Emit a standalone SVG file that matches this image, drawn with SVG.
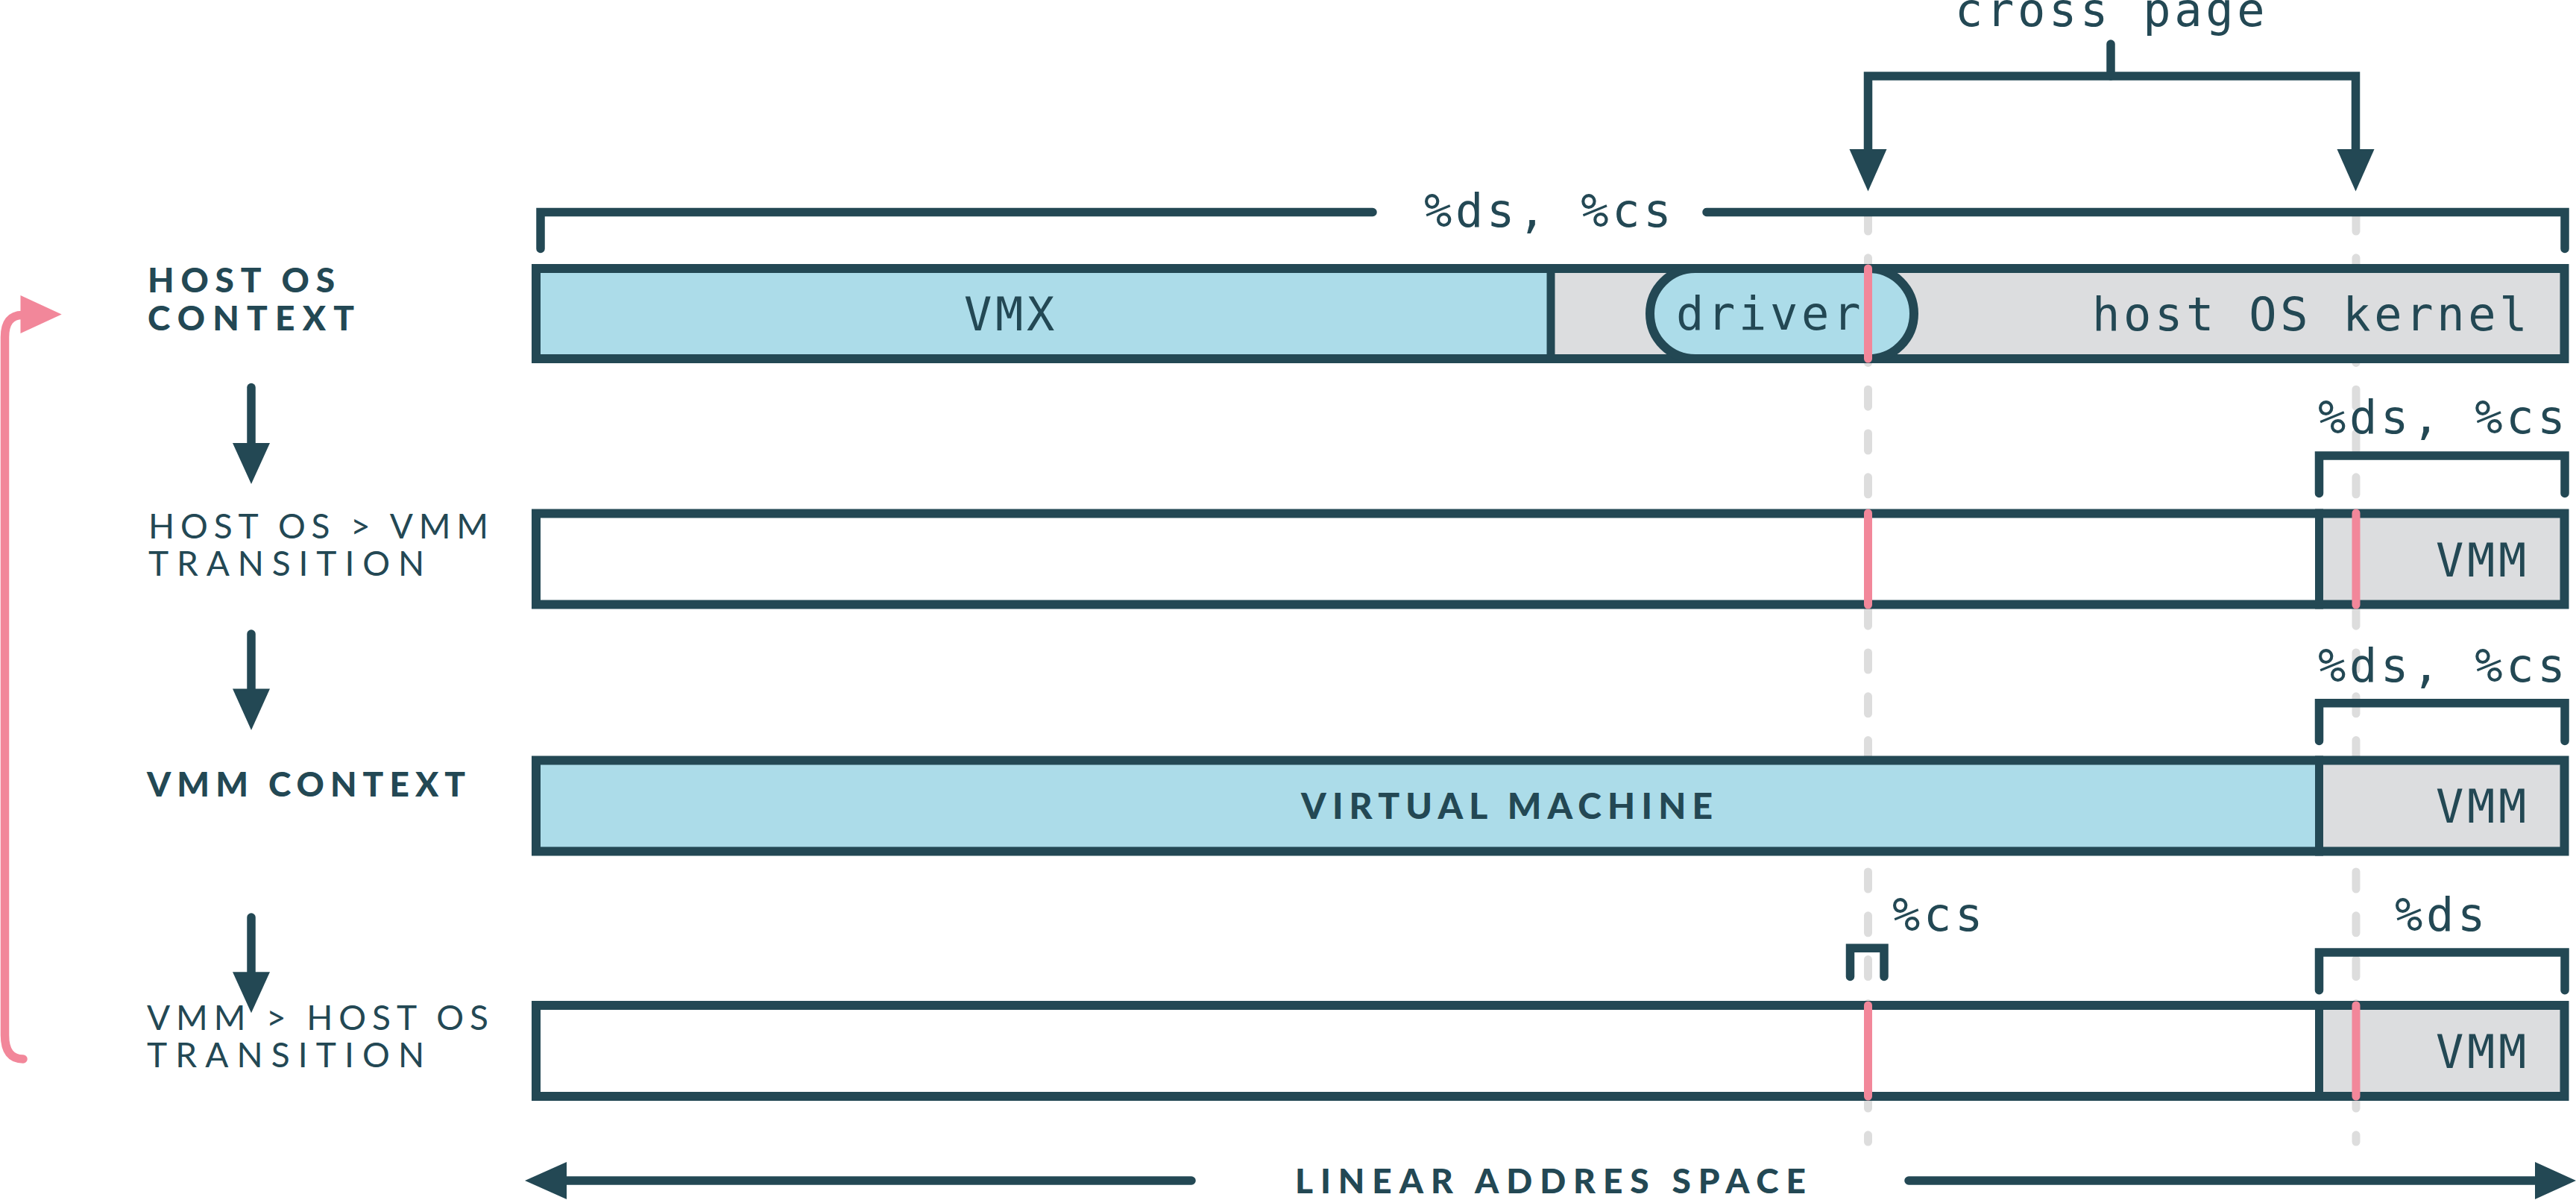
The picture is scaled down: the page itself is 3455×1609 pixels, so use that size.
<svg xmlns="http://www.w3.org/2000/svg" width="3455" height="1609" viewBox="0 0 3455 1609">
<defs>
<style>
.mono{font-family:"DejaVu Sans Mono","Liberation Mono",monospace;font-size:62px;letter-spacing:4.7px;fill:#234854}
.lbl{font-family:Lato,"Open Sans",sans-serif;font-size:46px;fill:#234854}
.b{font-weight:900}
.r{font-weight:400}
.ln{fill:none;stroke:#234854;stroke-width:11.5;stroke-linecap:round;stroke-linejoin:miter}
.box{fill:none;stroke:#234854;stroke-width:12}
.dash{fill:none;stroke:#dddddd;stroke-width:11;stroke-linecap:round;stroke-dasharray:23 35.8}
.pink{fill:none;stroke:#f2879a;stroke-width:11;stroke-linecap:round}
.head{fill:#234854}
</style>
</defs>
<rect width="3455" height="1609" fill="#ffffff"/>

<g id="guides">
<path class="dash" d="M2505.5,287 V1531"/>
<path class="dash" d="M3160,287 V1531"/>
</g>

<g id="row1">
<rect x="719" y="360" width="1361" height="121" fill="#acdce9"/>
<rect x="2080" y="360" width="1360" height="121" fill="#dcdddf"/>
<rect x="719" y="360" width="2720.5" height="121" class="box"/>
<line x1="2080" y1="354" x2="2080" y2="487" stroke="#234854" stroke-width="11"/>
<rect id="driver" x="2213" y="360" width="354" height="121" rx="60.5" ry="60.5" fill="#acdce9" stroke="#234854" stroke-width="12"/>
<text class="mono" x="1293" y="443">VMX</text>
<text class="mono" x="2248" y="442">driver</text>
<text class="mono" x="2806" y="443">host OS kernel</text>
<line class="pink" x1="2505.5" y1="360" x2="2505.5" y2="481"/>
</g>

<g id="row2">
<rect x="719" y="688.5" width="2391.5" height="122" fill="#ffffff"/>
<rect x="3110.5" y="688.5" width="329" height="122" fill="#dcdddf"/>
<rect x="719" y="688.5" width="2720.5" height="122" class="box"/>
<line x1="3110.5" y1="682.5" x2="3110.5" y2="816.5" stroke="#234854" stroke-width="11"/>
<text class="mono" x="3267" y="772.5">VMM</text>
<line class="pink" x1="2505.5" y1="688" x2="2505.5" y2="811"/>
<line class="pink" x1="3160" y1="688" x2="3160" y2="811"/>
</g>

<g id="row3">
<rect x="719" y="1019.5" width="2391.5" height="122" fill="#acdce9"/>
<rect x="3110.5" y="1019.5" width="329" height="122" fill="#dcdddf"/>
<rect x="719" y="1019.5" width="2720.5" height="122" class="box"/>
<line x1="3110.5" y1="1013.5" x2="3110.5" y2="1147.5" stroke="#234854" stroke-width="11"/>
<text class="lbl b" x="1745" y="1097.5" style="font-size:48px" textLength="552" lengthAdjust="spacing">VIRTUAL MACHINE</text>
<text class="mono" x="3267" y="1102.5">VMM</text>
</g>

<g id="row4">
<rect x="719" y="1348" width="2391.5" height="122" fill="#ffffff"/>
<rect x="3110.5" y="1348" width="329" height="122" fill="#dcdddf"/>
<rect x="719" y="1348" width="2720.5" height="122" class="box"/>
<line x1="3110.5" y1="1342" x2="3110.5" y2="1476" stroke="#234854" stroke-width="11"/>
<text class="mono" x="3267" y="1431.5">VMM</text>
<line class="pink" x1="2505.5" y1="1348" x2="2505.5" y2="1470"/>
<line class="pink" x1="3160" y1="1348" x2="3160" y2="1470"/>
</g>

<g id="labels">
<text class="lbl b" x="198" y="392" textLength="251" lengthAdjust="spacing">HOST OS</text>
<text class="lbl b" x="198" y="443" textLength="277" lengthAdjust="spacing">CONTEXT</text>
<text class="lbl r" x="199" y="721.5" textLength="456" lengthAdjust="spacing">HOST OS &gt; VMM</text>
<text class="lbl r" x="199" y="771.5" textLength="370" lengthAdjust="spacing">TRANSITION</text>
<text class="lbl b" x="197" y="1068" textLength="427" lengthAdjust="spacing">VMM CONTEXT</text>
<text class="lbl r" x="197" y="1381" textLength="458" lengthAdjust="spacing">VMM &gt; HOST OS</text>
<text class="lbl r" x="197" y="1431" textLength="372" lengthAdjust="spacing">TRANSITION</text>
<text class="lbl b" x="1737" y="1600" textLength="685" lengthAdjust="spacing">LINEAR ADDRES SPACE</text>
<text class="mono" x="2622" y="35">cross page</text>
<text class="mono" x="1910" y="303.5">%ds, %cs</text>
<text class="mono" x="3109" y="581">%ds, %cs</text>
<text class="mono" x="3109" y="913.5">%ds, %cs</text>
<text class="mono" x="2538" y="1248">%cs</text>
<text class="mono" x="3212" y="1248">%ds</text>
</g>

<g id="connectors">
<path class="ln" d="M725,333.5 V284.5 H1841"/>
<path class="ln" d="M2289,284.5 H3440 V333.5"/>
<path class="ln" d="M2831,59 V102"/>
<path class="ln" d="M2505.5,201 V102 H3159.5 V201" style="stroke-linecap:butt"/>
<polygon class="head" points="2480.5,200 2530.5,200 2505.5,256.5"/>
<polygon class="head" points="3134.5,200 3184.5,200 3159.5,256.5"/>
<path class="ln" d="M3110.5,661.5 V611 H3440 V661.5"/>
<path class="ln" d="M3110.5,993.5 V942.7 H3440 V993.5"/>
<path class="ln" d="M3110.5,1327.8 V1277 H3440 V1327.8"/>
<path class="ln" d="M2481.5,1309.5 V1271.3 H2527 V1309.5"/>
<path class="ln" d="M337,519.5 V596"/>
<polygon class="head" points="312,594 362,594 337,649"/>
<path class="ln" d="M337,850 V925"/>
<polygon class="head" points="312,923.5 362,923.5 337,979"/>
<path class="ln" d="M337,1230 V1305"/>
<polygon class="head" points="312,1303.3 362,1303.3 337,1358.3"/>
<path class="ln" d="M758,1583 H1598"/>
<polygon class="head" points="704,1583 760,1558 760,1608"/>
<path class="ln" d="M2560,1583 H3402"/>
<polygon class="head" points="3400,1558 3400,1608 3455,1583"/>
<path d="M31,1420 Q6.5,1420 6.5,1388 V452 Q6.5,422.5 30,422.5" fill="none" stroke="#f2879a" stroke-width="11.5" stroke-linecap="round"/>
<polygon points="27.5,396 82.7,421.5 27.5,447" fill="#f2879a"/>
</g>
</svg>
